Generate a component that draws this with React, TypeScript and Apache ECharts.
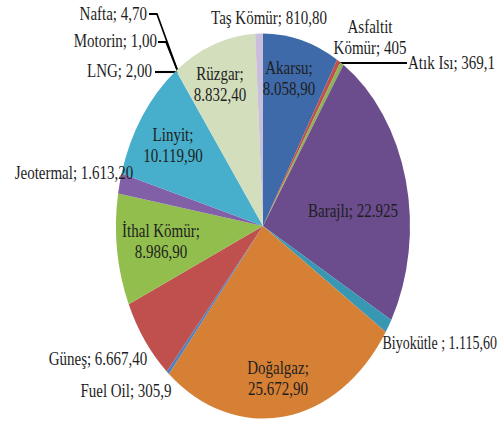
import React, { useEffect, useRef } from "react";
import * as echarts from "echarts";

const categories = [
  "Akarsu", "Asfaltit Kömür", "Atık Isı", "Barajlı", "Biyokütle", "Doğalgaz",
  "Fuel Oil", "Güneş", "İthal Kömür", "Jeotermal", "Linyit", "LNG",
  "Motorin", "Nafta", "Rüzgar", "Taş Kömür",
];
const values = [
  8058.9, 405, 369.1, 22925, 1115.6, 25672.9,
  305.9, 6667.4, 8986.9, 1613.2, 10119.9, 2.0,
  1.0, 4.7, 8832.4, 810.8,
];
const valueTexts = [
  "8.058,90", "405", "369,1", "22.925", "1.115,60", "25.672,90",
  "305,9", "6.667,40", "8.986,90", "1.613,20", "10.119,90", "2,00",
  "1,00", "4,70", "8.832,40", "810,80",
];
const colors = [
  "#3F6AAA", "#C0504D", "#8DB356", "#6B4C8C", "#3898B4", "#D68035",
  "#4F81BD", "#C0504D", "#92BE4E", "#8160A8", "#47AFCB", "#F79646",
  "#8DB3E2", "#E6B9B8", "#D3DEBD", "#C9BEDC",
];
// label text: break line after the name?
const twoLine = [true, false, false, false, false, true, false, false, true, false, true, false, false, false, true, false];
const nameTexts = [
  "Akarsu", "Asfaltit\nKömür", "Atık Isı", "Barajlı", "Biyokütle ", "Doğalgaz",
  "Fuel Oil", "Güneş", "İthal Kömür", "Jeotermal", "Linyit", "LNG",
  "Motorin", "Nafta", "Rüzgar", "Taş Kömür",
];

const S = 1.31;
const W = 498;
const H = 423;
const H0 = H / S;

// label anchor positions in screen pixels [x, y, align, fontSize]
const labelPos: [number, number, string, number][] = [
  [289, 78, "center", 15],
  [370, 37, "center", 15],
  [408, 62, "left", 15],
  [353, 210, "center", 15],
  [497, 343, "right", 14],
  [278, 378, "center", 15],
  [126, 390, "center", 15],
  [98, 358, "center", 15],
  [161, 241, "center", 15],
  [74, 172, "center", 15],
  [173, 145, "center", 15],
  [152, 70, "right", 15],
  [157, 40, "right", 15],
  [147, 13, "right", 15],
  [220, 84, "center", 15],
  [269, 17, "center", 15],
];
const leaderLines: Record<number, [number, number][]> = {
  2: [[338, 63], [407, 63]],
  11: [[155, 72], [178, 72]],
  12: [[158, 42], [166, 42], [178, 72]],
  13: [[149, 14], [157, 14], [178, 72]],
};

export default function App() {
  const ref = useRef<HTMLDivElement>(null);
  useEffect(() => {
    if (!ref.current) return;
    const chart = echarts.init(ref.current, null, { renderer: "svg" });
    const data = categories.map((c, i) => ({
      name: c,
      value: values[i],
      itemStyle: { color: colors[i] },
      label: {
        formatter:
          (twoLine[i] ? nameTexts[i] + ";\n" : nameTexts[i] + "; ") + valueTexts[i],
        fontSize: labelPos[i][3],
      },
      labelLine: { show: leaderLines[i] !== undefined },
    }));
    chart.setOption({
      animation: false,
      series: [
        {
          type: "pie",
          center: [263, 172.5],
          radius: 147,
          startAngle: 90,
          clockwise: true,
          avoidLabelOverlap: false,
          data,
          itemStyle: { borderWidth: 0 },
          label: {
            show: true,
            position: "outside",
            fontFamily: "Liberation Serif",
            fontSize: 15,
            lineHeight: 16,
            color: "#1e1e1e",
          },
          labelLine: {
            show: true,
            lineStyle: { color: "#000", width: 1.6 },
          },
          labelLayout: (p: any) => {
            const i = p.dataIndex;
            const [x, y, align] = labelPos[i];
            const out: any = {
              x,
              y: y / S,
              align,
              verticalAlign: "middle",
            };
            if (leaderLines[i]) {
              out.labelLinePoints = leaderLines[i].map(([a, b]) => [a, b / S]);
            }
            return out;
          },
        },
      ],
    });
    return () => chart.dispose();
  }, []);
  return (
    <div
      style={{
        position: "absolute",
        left: 0,
        top: 0,
        width: W,
        height: H,
        overflow: "hidden",
        background: "#fff",
      }}
    >
      <div
        ref={ref}
        style={{
          width: W,
          height: H0,
          transform: `scaleY(${S})`,
          transformOrigin: "0 0",
        }}
      />
    </div>
  );
}
